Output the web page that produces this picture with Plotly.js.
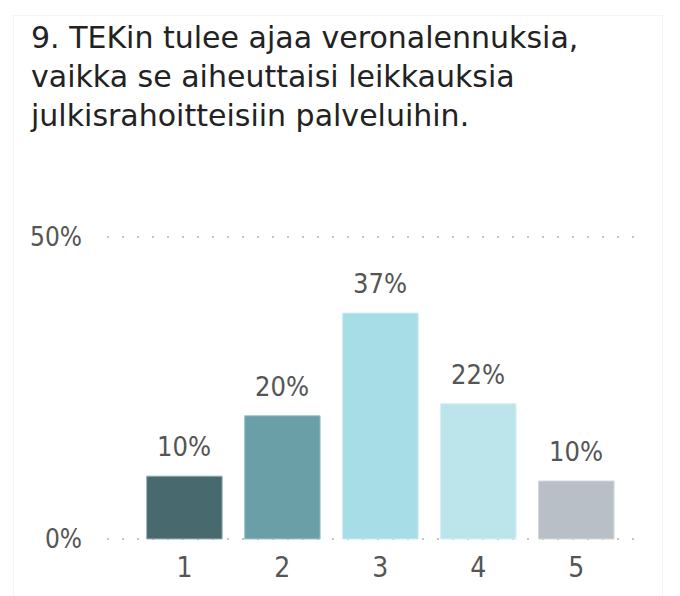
<!DOCTYPE html>
<html>
<head>
<meta charset="utf-8">
<script src="https://cdn.plot.ly/plotly-3.0.1.min.js"></script>
<style>
html,body{margin:0;padding:0;background:#fff;}
#wrap{position:relative;width:680px;height:596px;}
#chart{position:absolute;left:0;top:0;width:680px;height:596px;}
#card{position:absolute;left:13px;top:15px;width:648px;height:590px;border:1px solid #f3f3f3;pointer-events:none;}
</style>
</head>
<body>
<div id="wrap"><div id="chart"></div><div id="card"></div></div>
<script>
const titleText = "9. TEKin tulee ajaa veronalennuksia,<br>vaikka se aiheuttaisi leikkauksia<br>julkisrahoitteisiin palveluihin.";
const categories = ["1", "2", "3", "4", "5"];
const values = [10.4, 20.4, 37.4, 22.4, 9.6];
const labels = ["10%", "20%", "37%", "22%", "10%"];
const barColors = ["#48696e", "#6a9fa8", "#a6dde6", "#bce5eb", "#b8bfc6"];
const edgeColors = ["#8fb0b4", "#9cc3c9", "#c7ecf1", "#d5f0f4", "#d2d7dc"];
const yTicks = [0, 50];

const font = "'DejaVu Sans Condensed', sans-serif";

const trace = {
  type: "bar",
  x: categories,
  y: values,
  marker: {color: barColors, line: {color: edgeColors, width: 1}},
  width: 0.77,
  hoverinfo: "none"
};

const annotations = categories.map((c, i) => ({
  x: i, y: values[i], xref: "x", yref: "y",
  text: labels[i], showarrow: false,
  yanchor: "bottom", yshift: 12,
  font: {family: font, size: 27, color: "#555555"}
}));

annotations.push({
  text: titleText, showarrow: false, align: "left",
  xref: "paper", yref: "paper",
  x: (28 - 107) / 533, xanchor: "left",
  y: 1 + (234 - 18) / 308, yanchor: "top",
  font: {family: "'DejaVu Sans', sans-serif", size: 30, color: "#222222"}
});

const layout = {
  width: 680, height: 596,
  margin: {l: 107, r: 40, t: 234, b: 54},
  paper_bgcolor: "rgba(0,0,0,0)", plot_bgcolor: "rgba(0,0,0,0)",
  showlegend: false,
  xaxis: {
    type: "category",
    range: [-0.79, 4.65],
    showgrid: false, zeroline: false, showline: false,
    ticks: "",
    tickfont: {family: font, size: 28, color: "#555555"},
    ticklabelstandoff: 6
  },
  yaxis: {
    range: [-0.5, 50.5],
    tickvals: yTicks,
    ticktext: yTicks.map(v => v + "%"),
    showgrid: true, gridcolor: "#c4c4c4", gridwidth: 2, griddash: "2px,13px",
    zeroline: false, showline: false, ticks: "",
    tickfont: {family: font, size: 26, color: "#555555"},
    ticklabelstandoff: 24
  },
  annotations: annotations
};

Plotly.newPlot("chart", [trace], layout, {displayModeBar: false, staticPlot: true});
</script>
</body>
</html>
